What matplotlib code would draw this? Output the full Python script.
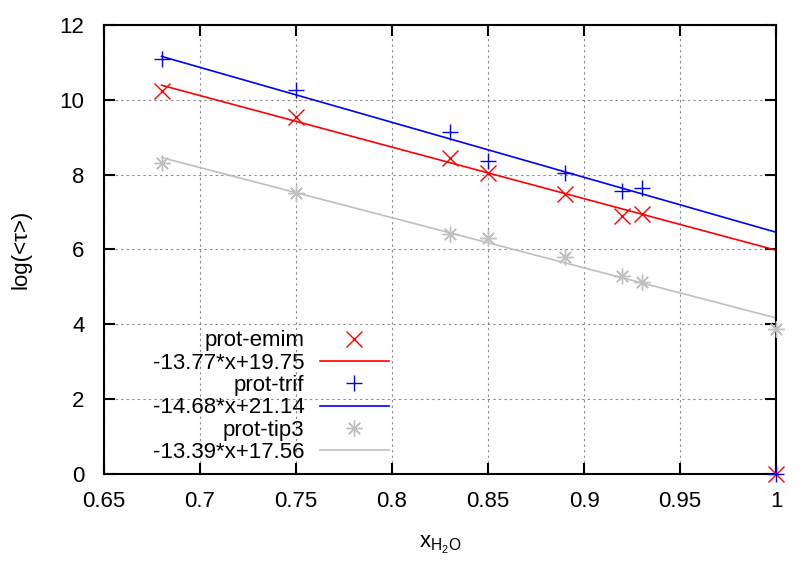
import numpy as np
import matplotlib.pyplot as plt

plt.rcParams['font.family'] = ['Liberation Sans', 'DejaVu Sans']
plt.rcParams['mathtext.fontset'] = 'custom'
plt.rcParams['mathtext.rm'] = 'Liberation Sans'

# water fraction
x_h2o = [0.68, 0.75, 0.83, 0.85, 0.89, 0.92, 0.93, 1.0]

# log(<tau>) for each system
emim = [10.24, 9.53, 8.45, 8.05, 7.48, 6.90, 6.96, 0.0]
trif = [11.10, 10.27, 9.15, 8.35, 8.05, 7.56, 7.65, 0.0]
tip3 = [8.32, 7.52, 6.40, 6.30, 5.81, 5.28, 5.13, 3.88]

# linear fits a*x+b
fit_a = [-13.77, -14.68, -13.39]
fit_b = [19.75, 21.14, 17.56]
fit_range = [0.68, 1.0]

names = ['prot-emim', 'prot-trif', 'prot-tip3']
colors = ['#ff0000', '#0000ff', '#c0c0c0']
markers = ['x', '+', (8, 2, 0)]

fig = plt.figure(figsize=(8, 5.65), dpi=100)
ax = fig.add_axes([0.13, 0.161, 0.84, 0.795])

handles = []
for ys, name, c, m, a, b in zip([emim, trif, tip3], names, colors, markers, fit_a, fit_b):
    h1, = ax.plot(x_h2o, ys, linestyle='none', marker=m, color=c, markersize=11.5,
                  markeredgewidth=1.0, clip_on=False, label=name, zorder=3)
    xf = np.array(fit_range)
    h2, = ax.plot(xf, a * xf + b, color=c, linewidth=1.2,
                  label='%.2f*x+%.2f' % (a, b), zorder=2)
    handles += [h1, h2]

ax.set_xlim(0.65, 1.0)
ax.set_ylim(0, 12)
xt = [0.65, 0.7, 0.75, 0.8, 0.85, 0.9, 0.95, 1.0]
ax.set_xticks(xt)
ax.set_xticklabels(['%g' % v for v in xt])
ax.set_yticks(range(0, 13, 2))

ax.tick_params(direction='in', length=8, width=1.5, top=True, right=True,
               labelsize=16)
ax.tick_params(axis='x', pad=12)
ax.tick_params(axis='y', pad=14)
for s in ax.spines.values():
    s.set_linewidth(1.5)
ax.grid(True, color='#888888', linestyle=(0, (2, 3)), linewidth=0.8)
ax.set_axisbelow(True)

ax.set_xlabel(r'x$_{\mathrm{H_2O}}$', fontsize=16, labelpad=16)
ax.set_ylabel('log(<\u03c4>)', fontsize=16, labelpad=20)

ax.legend(handles=handles, loc='upper right', bbox_to_anchor=(0.424, 0.32),
          markerfirst=False, frameon=False, fontsize=16, borderpad=0,
          borderaxespad=0, labelspacing=0.06, handlelength=3.1,
          handletextpad=0.7)

fig.savefig('out.png', dpi=100)
